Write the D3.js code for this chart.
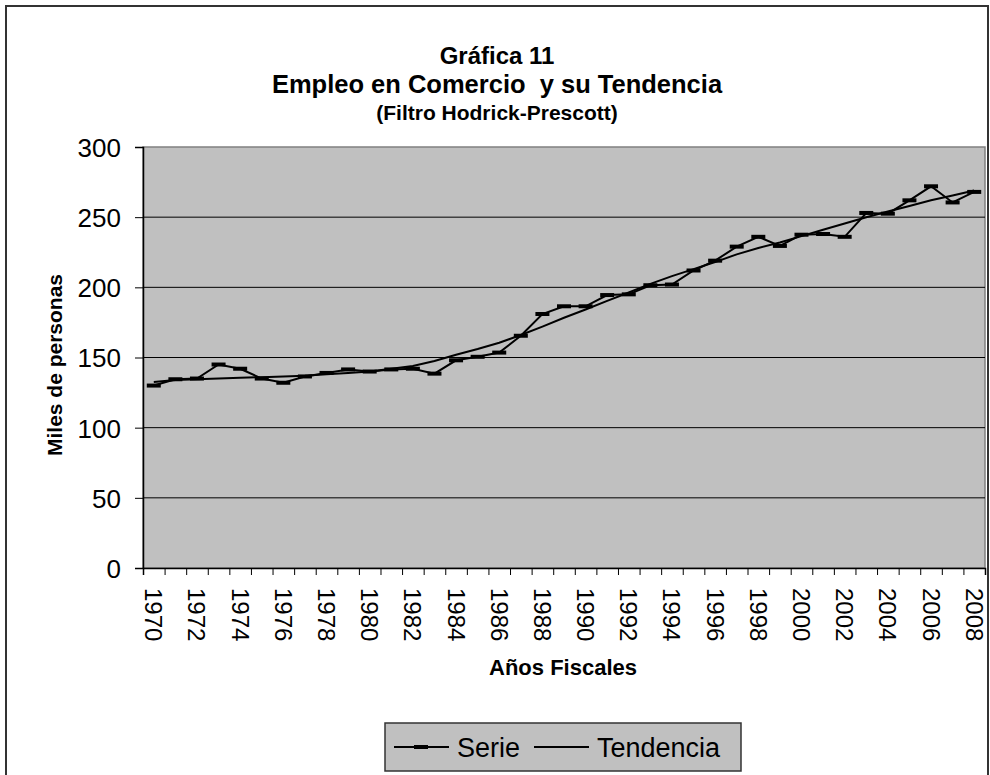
<!DOCTYPE html>
<html>
<head>
<meta charset="utf-8">
<script src="https://cdn.jsdelivr.net/npm/d3@7"></script>
<style>
  body { margin: 0; background: #fff; }
  text { font-family: "Liberation Sans", Arial, sans-serif; fill: #000; }
</style>
</head>
<body>
<script>
// DATA
var years = d3.range(1970, 2009);
var serie = [130, 134.5, 135, 145, 142, 135, 132, 136.5, 139, 141.5, 140, 141.5, 142, 138.5, 148,
             150.5, 153.5, 165.5, 181, 186.5, 186.5, 194.5, 195, 201.5, 202, 212, 219, 229, 236,
             229.5, 237.5, 238, 236, 253, 252.5, 262, 272, 260.5, 268];
var tendencia = [132.5, 134, 134.5, 135, 135.5, 136, 136.5, 137, 138, 139, 140, 142, 144, 147.5, 152,
                 156, 160.5, 166, 172, 178.3, 184.2, 190.4, 196.3, 202.5, 208, 213, 218, 223.5, 228,
                 232, 236.5, 241, 245.5, 250, 254, 258, 262, 265.5, 269];
var yTicks = [0, 50, 100, 150, 200, 250, 300];
var titleLines = ["Gráfica 11", "Empleo en Comercio  y su Tendencia", "(Filtro Hodrick-Prescott)"];

// CANVAS
var W = 990, H = 775;
var plot = {left: 143, right: 985, top: 147, bottom: 568};

var svg = d3.select("body").append("svg")
    .attr("width", W)
    .attr("height", H);

// outer frame
svg.append("rect")
    .attr("x", 6).attr("y", 6)
    .attr("width", 982).attr("height", 800)
    .attr("fill", "#fff")
    .attr("stroke", "#333")
    .attr("stroke-width", 2);

// SCALES
var x = d3.scaleBand()
    .domain(years)
    .range([plot.left, plot.right]);

var xi = d3.scaleLinear()
    .domain([0, years.length])
    .range([plot.left, plot.right]);

var y = d3.scaleLinear()
    .domain([0, 300])
    .range([plot.bottom, plot.top]);

// plot background
svg.append("rect")
    .attr("x", plot.left).attr("y", plot.top)
    .attr("width", plot.right - plot.left)
    .attr("height", plot.bottom - plot.top)
    .attr("fill", "#c0c0c0")
    .attr("stroke", "#808080")
    .attr("stroke-width", 1.5);

// gridlines
svg.append("g").selectAll("line")
    .data(yTicks.filter(function(d) { return d > 0 && d < 300; }))
    .enter().append("line")
        .attr("x1", plot.left).attr("x2", plot.right)
        .attr("y1", function(d) { return y(d); })
        .attr("y2", function(d) { return y(d); })
        .attr("stroke", "#000")
        .attr("stroke-width", 1);

// Y AXIS
var yAxis = d3.axisLeft(y)
    .tickValues(yTicks)
    .tickSize(8)
    .tickPadding(14);

var gy = svg.append("g")
    .attr("transform", "translate(" + plot.left + ",0)")
    .call(yAxis);
gy.select(".domain").attr("stroke", "#000").attr("stroke-width", 1.5);
gy.selectAll(".tick line").attr("stroke", "#000");
gy.selectAll(".tick text")
    .attr("font-size", 26)
    .attr("font-family", "Liberation Sans, Arial, sans-serif")
    .attr("dy", "0.36em");

// X AXIS (ticks on category boundaries)
var xAxis = d3.axisBottom(xi)
    .tickValues(d3.range(0, years.length + 1))
    .tickSize(7)
    .tickFormat("");

var gx = svg.append("g")
    .attr("transform", "translate(0," + plot.bottom + ")")
    .call(xAxis);
gx.select(".domain").attr("stroke", "#000").attr("stroke-width", 1.5);
gx.selectAll(".tick line").attr("stroke", "#000");

svg.append("g").selectAll("text")
    .data(years.filter(function(d) { return d % 2 === 0; }))
    .enter().append("text")
        .attr("transform", function(d) {
            return "translate(" + (x(d) + x.bandwidth() / 2) + "," + 588 + ") rotate(90)";
        })
        .attr("dominant-baseline", "central")
        .attr("font-size", 24)
        .text(function(d) { return d; });

// LINES
var line = d3.line()
    .x(function(d, i) { return x(years[i]) + x.bandwidth() / 2; })
    .y(function(d) { return y(d); });

svg.append("path")
    .datum(tendencia)
    .attr("d", line)
    .attr("fill", "none")
    .attr("stroke", "#000")
    .attr("stroke-width", 2);

svg.append("path")
    .datum(serie)
    .attr("d", line)
    .attr("fill", "none")
    .attr("stroke", "#000")
    .attr("stroke-width", 2);

svg.append("g").selectAll("rect")
    .data(serie)
    .enter().append("rect")
        .attr("x", function(d, i) { return x(years[i]) + x.bandwidth() / 2 - 7; })
        .attr("y", function(d) { return y(d) - 2; })
        .attr("width", 14)
        .attr("height", 4)
        .attr("fill", "#000");

// TITLES
var cx = 497;
svg.append("text").attr("x", cx).attr("y", 64)
    .attr("text-anchor", "middle").attr("font-size", 24).attr("font-weight", "bold")
    .text(titleLines[0]);
svg.append("text").attr("x", cx).attr("y", 93)
    .attr("text-anchor", "middle").attr("font-size", 25.5).attr("font-weight", "bold")
    .style("white-space", "pre")
    .text(titleLines[1]);
svg.append("text").attr("x", cx).attr("y", 120)
    .attr("text-anchor", "middle").attr("font-size", 21).attr("font-weight", "bold")
    .text(titleLines[2]);

// axis titles
svg.append("text")
    .attr("transform", "translate(62,365) rotate(-90)")
    .attr("text-anchor", "middle").attr("font-size", 21).attr("font-weight", "bold")
    .text("Miles de personas");

svg.append("text")
    .attr("x", 563).attr("y", 675)
    .attr("text-anchor", "middle").attr("font-size", 22).attr("font-weight", "bold")
    .text("Años Fiscales");

// LEGEND
var leg = svg.append("g").attr("transform", "translate(385,723)");
leg.append("rect")
    .attr("width", 356).attr("height", 48)
    .attr("fill", "#c0c0c0")
    .attr("stroke", "#333")
    .attr("stroke-width", 1.5);
leg.append("line").attr("x1", 9).attr("x2", 64).attr("y1", 24).attr("y2", 24)
    .attr("stroke", "#000").attr("stroke-width", 2);
leg.append("rect").attr("x", 29).attr("y", 22).attr("width", 14).attr("height", 4).attr("fill", "#000");
leg.append("text").attr("x", 72).attr("y", 34).attr("font-size", 27).text("Serie");
leg.append("line").attr("x1", 149).attr("x2", 204).attr("y1", 24).attr("y2", 24)
    .attr("stroke", "#000").attr("stroke-width", 2);
leg.append("text").attr("x", 212).attr("y", 34).attr("font-size", 27).text("Tendencia");
</script>
</body>
</html>
